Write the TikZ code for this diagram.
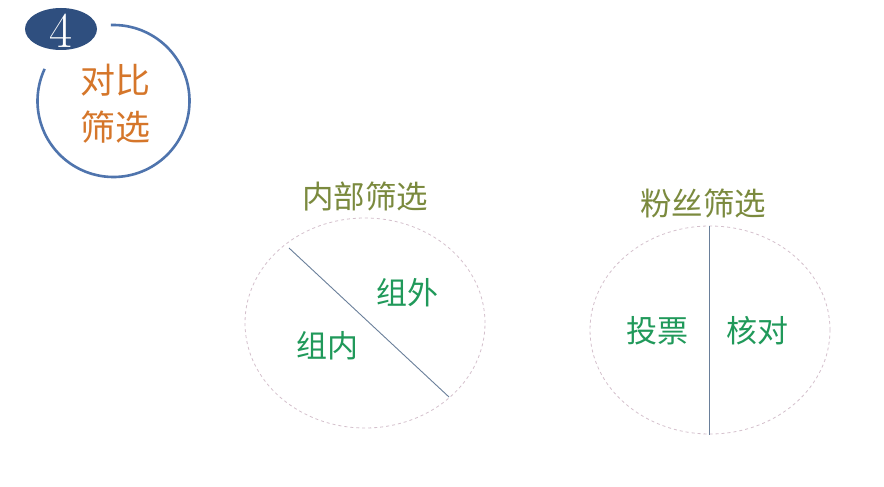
\documentclass[tikz,border=0pt]{standalone}
\usepackage{fontspec}
\newfontfamily\cjk{Noto Sans CJK SC}
\usepackage{tikz}
\usetikzlibrary{shapes.geometric}
\usepackage[table]{xcolor}

\definecolor{ringblue}{HTML}{4F74AD}
\definecolor{badgeblue}{HTML}{2F4F7F}
\definecolor{titleorange}{HTML}{D5762A}
\definecolor{headolive}{HTML}{7B8A3E}
\definecolor{partgreen}{HTML}{20995A}
\definecolor{ringpink}{HTML}{D4C0CC}
\definecolor{cutgray}{HTML}{6A7F9A}

\tikzset{
	head/.style={font=\cjk\fontsize{31.5}{34}\selectfont, text=headolive},
	part/.style={font=\cjk\fontsize{31}{34}\selectfont, text=partgreen},
	outline/.style={draw=ringpink, dashed, line width=0.8pt},
	cut/.style={draw=cutgray, line width=0.9pt}
}

\begin{document}
\begin{tikzpicture}[x=1pt, y=-1pt]
			\useasboundingbox[fill=white] (0,0) rectangle (884,487);

			% ring with badge
			\coordinate (R) at (113.5,101);
			\draw[ringblue, line width=2.6pt] (R) ++(-92:76) arc[start angle=-92, end angle=205, radius=76];
			\node[ellipse, fill=badgeblue, minimum width=72pt, minimum height=42pt] (B) at (61,29) {};
			\node[text=white, font=\fontsize{50}{50}\selectfont] at (61,31) {4};
			\node[font=\cjk\fontsize{35}{38}\selectfont, text=titleorange] (T1) at (115,80) {对比};
			\node[font=\cjk\fontsize{35}{38}\selectfont, text=titleorange] (T2) at (115,127) {筛选};

			% inside split
			\node[head] (H1) at (365,196) {内部筛选};
			\node[outline, ellipse, minimum width=240pt, minimum height=210pt] (E1) at (365,323) {};
			\coordinate (A1) at (289,248);
			\coordinate (A2) at (449,397);
			\draw[cut] (A1) -- (A2);
			\node[part] (P1) at (407,293) {组外};
			\node[part] (P2) at (327,346) {组内};

			% fans split
			\node[head] (H2) at (703,203) {粉丝筛选};
			\node[outline, ellipse, minimum width=240pt, minimum height=208pt] (E2) at (710,330) {};
			\draw[cut] (709,226) coordinate (V1) -- (709,435) coordinate (V2);
			\node[part] (P3) at (657,331) {投票};
			\node[part] (P4) at (757,331) {核对};
		\end{tikzpicture}
\end{document}
